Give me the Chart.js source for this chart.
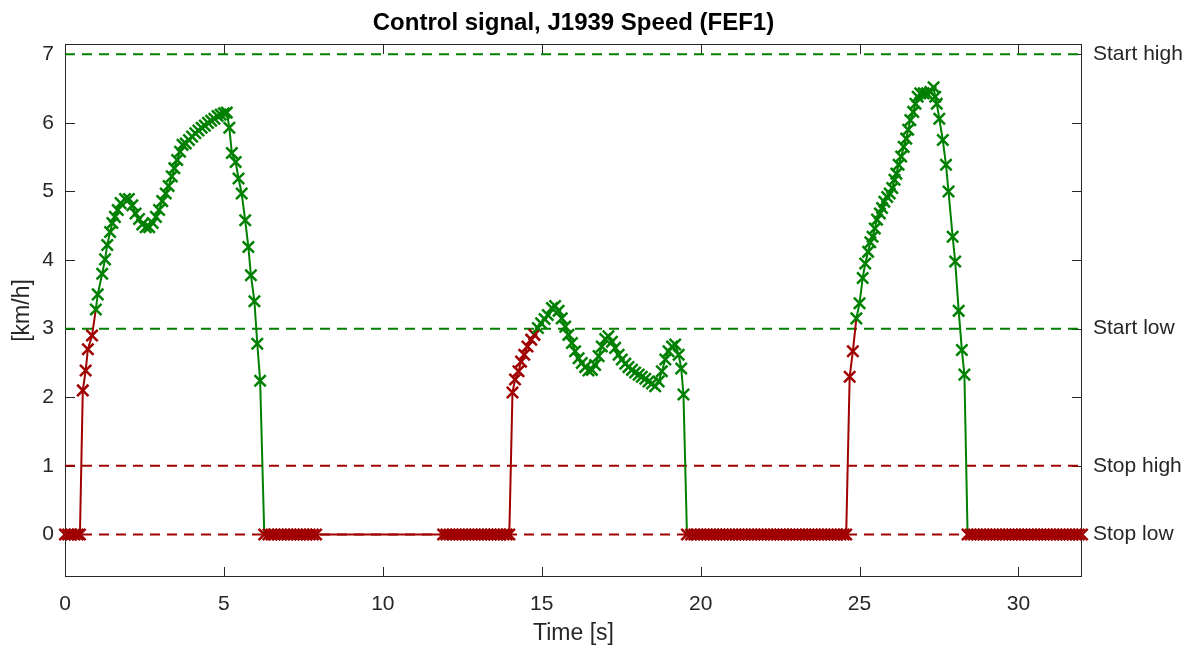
<!DOCTYPE html>
<html>
<head>
<meta charset="utf-8">
<title>Control signal, J1939 Speed (FEF1)</title>
<script src="https://cdn.jsdelivr.net/npm/chart.js@4.4.1/dist/chart.umd.min.js"></script>
<style>
  html, body { margin: 0; padding: 0; background: #fff; }
  #wrap { width: 1189px; height: 645px; }
</style>
</head>
<body>
<div id="wrap"><canvas id="speedChart"></canvas></div>
<script>
// samples: time [s] and speed [km/h]
const time = [
  0, 0.1, 0.2, 0.3, 0.4, 0.47,
  0.56, 0.65, 0.72, 0.85, 0.97, 1.03, 1.17, 1.26, 1.33, 1.42,
  1.49, 1.57, 1.66, 1.75, 1.89, 2.01, 2.12, 2.22, 2.33, 2.43,
  2.54, 2.65, 2.76, 2.86, 2.96, 3.06, 3.17, 3.26, 3.36, 3.44,
  3.53, 3.62, 3.70, 3.80, 3.90, 4.00, 4.10, 4.20, 4.30, 4.40,
  4.50, 4.60, 4.70, 4.80, 4.90, 5.00, 5.09, 5.17, 5.25, 5.37,
  5.46, 5.56, 5.67, 5.77, 5.85, 5.96, 6.05, 6.14,
  6.27, 6.4, 6.5, 6.6, 6.7, 6.8, 6.9, 7.0, 7.1, 7.2,
  7.3, 7.4, 7.5, 7.6, 7.7, 7.8, 7.9,
  11.9, 12.0, 12.1, 12.2, 12.3, 12.4, 12.5, 12.6, 12.7, 12.8,
  12.9, 13.0, 13.1, 13.2, 13.3, 13.4, 13.5, 13.6, 13.7, 13.8,
  13.9, 13.98,
  14.08, 14.16, 14.27, 14.35, 14.45, 14.55, 14.67, 14.77, 14.88, 14.98,
  15.09, 15.19, 15.32, 15.42, 15.53, 15.63, 15.74, 15.84, 15.95, 16.05,
  16.16, 16.26, 16.37, 16.47, 16.58, 16.68, 16.79, 16.89, 17.00, 17.10,
  17.21, 17.31, 17.42, 17.52, 17.63, 17.73, 17.84, 17.94, 18.05, 18.15,
  18.26, 18.36, 18.47, 18.57, 18.68, 18.78, 18.89, 18.99, 19.10, 19.20,
  19.31, 19.39, 19.46,
  19.57, 19.7, 19.8, 19.9,
  20.0, 20.1, 20.2, 20.3, 20.4, 20.5, 20.6, 20.7, 20.8, 20.9,
  21.0, 21.1, 21.2, 21.3, 21.4, 21.5, 21.6, 21.7, 21.8, 21.9,
  22.0, 22.1, 22.2, 22.3, 22.4, 22.5, 22.6, 22.7, 22.8, 22.9,
  23.0, 23.1, 23.2, 23.3, 23.4, 23.5, 23.6, 23.7, 23.8, 23.9,
  24.0, 24.1, 24.2, 24.3, 24.4, 24.5, 24.58,
  24.69, 24.79, 24.90, 25.00, 25.10, 25.18, 25.27, 25.34, 25.41, 25.48,
  25.55, 25.64, 25.71, 25.78, 25.87, 25.95, 26.03, 26.10, 26.16, 26.23,
  26.31, 26.39, 26.47, 26.53, 26.60, 26.69, 26.76, 26.83, 26.91, 27.02,
  27.12, 27.23, 27.33, 27.38, 27.43, 27.51, 27.62, 27.72, 27.80, 27.93,
  28.01, 28.12, 28.22, 28.30,
  28.4, 28.5, 28.6, 28.7, 28.8, 28.9,
  29.0, 29.1, 29.2, 29.3, 29.4, 29.5, 29.6, 29.7, 29.8, 29.9,
  30.0, 30.1, 30.2, 30.3, 30.4, 30.5, 30.6, 30.7, 30.8, 30.9,
  31.0, 31.1, 31.2, 31.3, 31.4, 31.5, 31.6, 31.7, 31.8, 31.9,
  32.0,
];

const speed = [
  0, 0, 0, 0, 0, 0,
  2.10, 2.39, 2.70, 2.90, 3.28, 3.50, 3.80, 4.01, 4.22, 4.41,
  4.54, 4.63, 4.73, 4.83, 4.89, 4.89, 4.80, 4.68, 4.60, 4.52,
  4.48, 4.48, 4.54, 4.63, 4.73, 4.86, 4.97, 5.08, 5.22, 5.34,
  5.46, 5.58, 5.68, 5.70, 5.75, 5.80, 5.85, 5.89, 5.93, 5.96,
  6.00, 6.03, 6.06, 6.10, 6.12, 6.14, 6.15, 5.93, 5.56, 5.43,
  5.19, 4.97, 4.58, 4.19, 3.78, 3.40, 2.78, 2.24,
  0, 0, 0, 0, 0, 0, 0, 0, 0, 0,
  0, 0, 0, 0, 0, 0, 0,
  0, 0, 0, 0, 0, 0, 0, 0, 0, 0,
  0, 0, 0, 0, 0, 0, 0, 0, 0, 0,
  0, 0,
  2.07, 2.26, 2.38, 2.52, 2.62, 2.74, 2.84, 2.91, 3.01, 3.08,
  3.14, 3.20, 3.30, 3.33, 3.26, 3.15, 3.03, 2.91, 2.79, 2.67,
  2.57, 2.50, 2.44, 2.39, 2.40, 2.47, 2.60, 2.74, 2.85, 2.89,
  2.81, 2.72, 2.62, 2.55, 2.49, 2.44, 2.40, 2.36, 2.33, 2.30,
  2.27, 2.23, 2.20, 2.16, 2.23, 2.38, 2.55, 2.67, 2.74, 2.77,
  2.62, 2.42, 2.04,
  0, 0, 0, 0,
  0, 0, 0, 0, 0, 0, 0, 0, 0, 0,
  0, 0, 0, 0, 0, 0, 0, 0, 0, 0,
  0, 0, 0, 0, 0, 0, 0, 0, 0, 0,
  0, 0, 0, 0, 0, 0, 0, 0, 0, 0,
  0, 0, 0, 0, 0, 0, 0,
  2.30, 2.67, 3.15, 3.37, 3.74, 3.95, 4.12, 4.26, 4.34, 4.46,
  4.59, 4.68, 4.76, 4.85, 4.92, 4.97, 5.05, 5.17, 5.26, 5.39,
  5.51, 5.65, 5.77, 5.90, 6.04, 6.16, 6.28, 6.38, 6.43, 6.43,
  6.43, 6.45, 6.52, 6.38, 6.28, 6.06, 5.75, 5.39, 5.00, 4.34,
  3.98, 3.26, 2.69, 2.33,
  0, 0, 0, 0, 0, 0,
  0, 0, 0, 0, 0, 0, 0, 0, 0, 0,
  0, 0, 0, 0, 0, 0, 0, 0, 0, 0,
  0, 0, 0, 0, 0, 0, 0, 0, 0, 0,
  0,
];

const thresholdValues = [7, 3, 1, 0];
const thresholdLabels = ["Start high", "Start low", "Stop high", "Stop low"];

const xLimits = [0, 32];
const yLimits = [-0.62, 7.15];

if (time.length !== speed.length) {
  throw new Error("time/speed length mismatch: " + time.length + " vs " + speed.length);
}

const GREEN = "#008000";
const RED = "#a00000";
const AXIS = "#262626";
const FONT = "'Liberation Sans', Arial, Helvetica, sans-serif";

// start/stop state with hysteresis: on above "Start low", off below "Stop high"
const startLow = thresholdValues[1];
const stopHigh = thresholdValues[2];
let on = false;
const running = speed.map((v) => {
  if (!on && v >= startLow) on = true;
  else if (on && v <= stopHigh) on = false;
  return on;
});

const datasets = [
  {
    label: "Speed",
    data: time.map((t, i) => ({ x: t, y: speed[i] })),
    borderColor: RED,
    borderWidth: 2,
    pointStyle: "crossRot",
    pointRadius: 8,
    pointBorderWidth: 2.5,
    pointBorderColor: running.map((r) => (r ? GREEN : RED)),
    pointBackgroundColor: "transparent",
    segment: { borderColor: (c) => (running[c.p0DataIndex] ? GREEN : RED) },
    clip: false,
    order: 0,
  },
];
thresholdValues.forEach((v, i) => {
  datasets.push({
    label: thresholdLabels[i],
    data: [{ x: xLimits[0], y: v }, { x: xLimits[1], y: v }],
    borderColor: i < 2 ? GREEN : RED,
    borderWidth: 2,
    borderDash: [10, 7],
    pointRadius: 0,
    order: 1,
  });
});

// MATLAB-like box with inward tick marks
const axesBox = {
  id: "axesBox",
  beforeDatasetsDraw(chart) {
    const { ctx, chartArea: a, scales } = chart;
    ctx.save();
    ctx.strokeStyle = AXIS;
    ctx.lineWidth = 1;
    ctx.strokeRect(a.left + 0.5, a.top + 0.5, a.right - a.left - 1, a.bottom - a.top - 1);
    ctx.beginPath();
    scales.x.ticks.forEach((t) => {
      const px = Math.round(scales.x.getPixelForValue(t.value)) + 0.5;
      ctx.moveTo(px, a.bottom);
      ctx.lineTo(px, a.bottom - 10);
      ctx.moveTo(px, a.top);
      ctx.lineTo(px, a.top + 10);
    });
    scales.y.ticks.forEach((t) => {
      const py = Math.round(scales.y.getPixelForValue(t.value)) + 0.5;
      ctx.moveTo(a.left, py);
      ctx.lineTo(a.left + 10, py);
      ctx.moveTo(a.right, py);
      ctx.lineTo(a.right - 10, py);
    });
    ctx.stroke();
    ctx.restore();
  },
};

const tickFont = { family: FONT, size: 21 };
const labelFont = { family: FONT, size: 23, lineHeight: 1 };

new Chart(document.getElementById("speedChart"), {
  type: "line",
  data: { datasets },
  plugins: [axesBox],
  options: {
    responsive: true,
    maintainAspectRatio: false,
    animation: false,
    layout: { padding: 0 },
    plugins: {
      legend: { display: false },
      tooltip: { enabled: false },
      title: {
        display: true,
        text: "Control signal, J1939 Speed (FEF1)",
        color: "#000",
        font: { family: FONT, size: 24, weight: "bold", lineHeight: 1.2 },
        padding: { top: 9, bottom: 6.2 },
        fullSize: false,
      },
    },
    scales: {
      x: {
        type: "linear",
        min: xLimits[0],
        max: xLimits[1],
        grid: { display: false, drawTicks: false },
        border: { display: false },
        ticks: { stepSize: 5, includeBounds: false, padding: 15, font: tickFont, color: AXIS, maxRotation: 0 },
        title: { display: true, text: "Time [s]", font: labelFont, color: AXIS, padding: { top: 0, bottom: 0 } },
        afterFit: (s) => { s.height = 68; },
      },
      y: {
        min: yLimits[0],
        max: yLimits[1],
        grid: { display: false, drawTicks: false },
        border: { display: false },
        ticks: { stepSize: 1, includeBounds: false, padding: 11, font: tickFont, color: AXIS },
        title: { display: true, text: "[km/h]", font: labelFont, color: AXIS, padding: { top: 11, bottom: 0 } },
        afterFit: (s) => { s.width = 65; },
      },
      y2: {
        position: "right",
        min: yLimits[0],
        max: yLimits[1],
        grid: { display: false, drawTicks: false },
        border: { display: false },
        afterBuildTicks: (s) => { s.ticks = thresholdValues.map((v) => ({ value: v })); },
        ticks: {
          autoSkip: false,
          padding: 11,
          font: tickFont,
          color: AXIS,
          callback: (v, i) => thresholdLabels[i],
        },
        afterFit: (s) => { s.width = 107; },
      },
    },
  },
});
</script>
</body>
</html>
